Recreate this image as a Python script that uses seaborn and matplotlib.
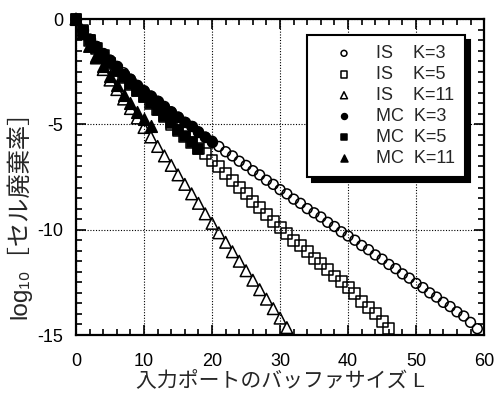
import pandas as pd
import seaborn as sns
import matplotlib.pyplot as plt
from matplotlib.ticker import MultipleLocator

# IS (importance sampling) results, one point per buffer size L
L_is3 = list(range(0, 60))
is_k3 = [0.0, -0.55, -0.95, -1.3, -1.65, -1.95, -2.25, -2.55, -2.85, -3.15,
         -3.4, -3.65, -3.9, -4.15, -4.4, -4.65, -4.9, -5.1, -5.35, -5.6,
         -5.8, -6.05, -6.3, -6.5, -6.75, -6.95, -7.2, -7.4, -7.65, -7.85,
         -8.1, -8.3, -8.55, -8.75, -9.0, -9.2, -9.4, -9.65, -9.85, -10.1,
         -10.3, -10.5, -10.75, -10.95, -11.2, -11.4, -11.65, -11.85, -12.1, -12.3,
         -12.55, -12.75, -13.0, -13.2, -13.45, -13.65, -13.9, -14.1, -14.4, -14.7]
L_is5 = list(range(0, 47))
is_k5 = [0.0, -0.55, -1.0, -1.4, -1.75, -2.1, -2.45, -2.8, -3.1, -3.4,
         -3.7, -4.0, -4.3, -4.65, -5.0, -5.3, -5.6, -5.85, -6.15, -6.4,
         -6.7, -7.0, -7.35, -7.65, -8.0, -8.3, -8.65, -8.95, -9.3, -9.6,
         -9.9, -10.2, -10.5, -10.75, -11.05, -11.35, -11.6, -11.9, -12.2, -12.45,
         -12.75, -13.05, -13.4, -13.7, -14.0, -14.35, -14.7]
L_is11 = list(range(0, 32))
is_k11 = [0.0, -0.7, -1.3, -1.85, -2.4, -2.9, -3.35, -3.8, -4.25, -4.7,
          -5.15, -5.6, -6.05, -6.5, -6.95, -7.4, -7.85, -8.3, -8.75, -9.25,
          -9.7, -10.15, -10.6, -11.05, -11.5, -11.95, -12.4, -12.85, -13.3, -13.75,
          -14.2, -14.65]

# MC (Monte Carlo) results, only for small L
L_mc3 = list(range(0, 21))
mc_k3 = [0.0, -0.5, -0.95, -1.3, -1.6, -1.95, -2.25, -2.6, -2.85, -3.15,
         -3.4, -3.65, -3.9, -4.2, -4.4, -4.65, -4.9, -5.1, -5.35, -5.6, -5.85]
L_mc5 = list(range(0, 19))
mc_k5 = [0.0, -0.55, -1.0, -1.4, -1.75, -2.1, -2.45, -2.75, -3.1, -3.4,
         -3.7, -4.0, -4.3, -4.6, -4.95, -5.25, -5.55, -5.85, -6.15]
L_mc11 = list(range(0, 12))
mc_k11 = [0.0, -0.65, -1.25, -1.75, -2.25, -2.7, -3.15, -3.6, -4.0, -4.4, -4.75, -5.1]

labels = ["IS    K=3", "IS    K=5", "IS    K=11", "MC  K=3", "MC  K=5", "MC  K=11"]

sns.set_style("ticks")
plt.rcParams['font.family'] = ['Liberation Sans', 'Noto Sans CJK JP', 'DejaVu Sans']
plt.rcParams['axes.unicode_minus'] = False

fig, ax = plt.subplots(figsize=(4.95, 4.0), dpi=100)
fig.subplots_adjust(left=0.1535, right=0.978, top=0.9525, bottom=0.1625)

series = [
    (L_mc3, mc_k3, "o", 50, "black", labels[3]),
    (L_mc5, mc_k5, "s", 62, "black", labels[4]),
    (L_mc11, mc_k11, "^", 70, "black", labels[5]),
    (L_is3, is_k3, "o", 50, "none", labels[0]),
    (L_is5, is_k5, "s", 62, "none", labels[1]),
    (L_is11, is_k11, "^", 70, "none", labels[2]),
]
for xs, ys, mk, size, fc, lab in series:
    df = pd.DataFrame({"L": xs, "v": ys})
    sns.scatterplot(data=df, x="L", y="v", marker=mk, s=size, facecolor=fc,
                    edgecolor="black", linewidth=1.1, label=lab, ax=ax,
                    zorder=3, clip_on=False)

ax.set_xlim(0, 60)
ax.set_ylim(-15, 0)
ax.xaxis.set_major_locator(MultipleLocator(10))
ax.xaxis.set_minor_locator(MultipleLocator(2))
ax.yaxis.set_major_locator(MultipleLocator(5))
ax.yaxis.set_minor_locator(MultipleLocator(0.5))
ax.tick_params(which="both", direction="in", top=True, right=True, width=1.2,
               labelsize=13, colors="black")
ax.tick_params(which="major", length=7)
ax.tick_params(which="minor", length=4)
ax.tick_params(axis="x", pad=13)
ax.tick_params(axis="y", pad=9)
for sp in ax.spines.values():
    sp.set_linewidth(1.6)
    sp.set_color("black")
ax.grid(True, which="major", linestyle=(0, (1, 1.5)), color="black", linewidth=0.8)

ax.set_xlabel("入力ポートのバッファサイズ L", fontsize=15, labelpad=1)
ax.set_ylabel("log₁₀［セル廃棄率］", fontsize=17.5)
ax.yaxis.set_label_coords(-0.11, 0.40)

handles, labs = ax.get_legend_handles_labels()
order = [labs.index(l) for l in labels]
leg = ax.legend([handles[i] for i in order], [labs[i] for i in order],
                loc="upper left", bbox_to_anchor=(0.566, 0.949), borderaxespad=0,
                fontsize=13, frameon=True, fancybox=False, framealpha=1,
                edgecolor="black", borderpad=0.55, handlelength=3,
                handletextpad=0.3, labelspacing=0.22, markerscale=0.6,
                shadow={"ox": 3.5, "oy": -3.5, "color": "black", "alpha": 1})
leg.get_frame().set_linewidth(1.5)
leg.set_zorder(5)

fig.savefig("out.png", dpi=100)
